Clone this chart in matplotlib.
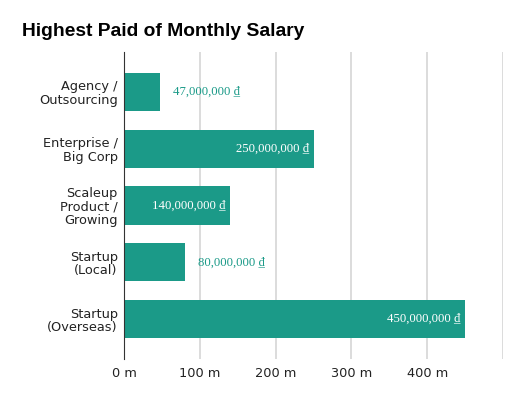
import matplotlib.pyplot as plt

categories = ["Agency /\nOutsourcing", "Enterprise /\nBig Corp", "Scaleup\nProduct /\nGrowing",
              "Startup\n(Local)", "Startup\n(Overseas)"]
salaries = [47_000_000, 250_000_000, 140_000_000, 80_000_000, 450_000_000]
ticks = [0, 100, 200, 300, 400, 500]
tick_labels = ["0 m", "100 m", "200 m", "300 m", "400 m", ""]

bar_color = "#1b9a88"


def plot_salary():
    fig = plt.figure(figsize=(5.26, 3.98), dpi=100)
    ax = fig.add_axes([124 / 526, 1 - 359 / 398, (503 - 124) / 526, (359 - 52) / 398])
    vals = [s / 1e6 for s in salaries]
    ys = range(len(categories))
    ax.barh(ys, vals, height=0.67, color=bar_color, zorder=3)
    ax.set_ylim(4.7, -0.7)
    ax.set_xlim(0, 500)
    ax.set_yticks(list(ys))
    ax.set_yticklabels(categories, fontsize=9.3, color="#222222", linespacing=1.05,
                       family="DejaVu Sans")
    ax.set_xticks(ticks)
    ax.set_xticklabels(tick_labels, fontsize=9.3, color="#222222", family="DejaVu Sans")
    ax.tick_params(length=0)
    ax.tick_params(axis="y", pad=4.5)
    ax.tick_params(axis="x", pad=6)
    ax.grid(axis="x", color="#d6d6d6", linewidth=1.2, zorder=0)
    for s in ["top", "right", "bottom"]:
        ax.spines[s].set_visible(False)
    ax.spines["left"].set_color("#333333")
    ax.spines["left"].set_zorder(4)

    for y, v, s in zip(ys, vals, salaries):
        txt = f"{s:,} \u20ab"
        if v >= 120:
            ax.text(v - 6, y, txt, ha="right", va="center", color="white", fontsize=9.2,
                    family=["Liberation Serif", "DejaVu Serif"], zorder=5)
        else:
            ax.text(v + 17, y, txt, ha="left", va="center", color=bar_color, fontsize=9.2,
                    family=["Liberation Serif", "DejaVu Serif"], zorder=5)

    fig.text(22 / 526, 1 - 31 / 398, "Highest Paid of Monthly Salary", fontsize=13.9,
             fontweight="bold", family="Liberation Sans", va="center", ha="left")
    fig.savefig("out.png", dpi=100)


if __name__ == "__main__":
    plot_salary()
